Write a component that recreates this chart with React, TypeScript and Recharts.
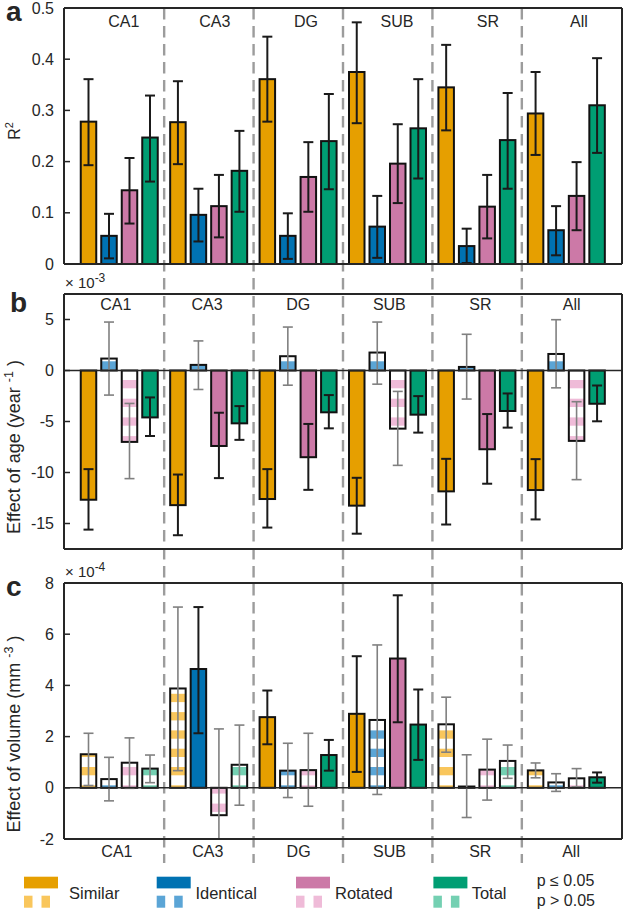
import React from 'react';
import { BarChart, Bar, XAxis, YAxis, ReferenceLine, ErrorBar } from 'recharts';

// ---------- data ----------
const categories = ['CA1', 'CA3', 'DG', 'SUB', 'SR', 'All'];
const seriesNames = ['Similar', 'Identical', 'Rotated', 'Total'];
const solidColors = ['#E69F00', '#0072B2', '#CC79A7', '#009E73'];
const lightColors = ['#F9C65C', '#5BA5D6', '#EFBBD8', '#74D0B2'];

// panel a: R^2
const r2Similar = [0.278, 0.277, 0.361, 0.375, 0.345, 0.294];
const r2SimilarLo = [0.193, 0.195, 0.278, 0.275, 0.261, 0.213];
const r2SimilarHi = [0.361, 0.357, 0.444, 0.472, 0.428, 0.375];
const r2Identical = [0.055, 0.096, 0.055, 0.073, 0.035, 0.066];
const r2IdenticalLo = [0.011, 0.044, 0.01, 0.012, 0.002, 0.017];
const r2IdenticalHi = [0.098, 0.147, 0.099, 0.133, 0.069, 0.113];
const r2Rotated = [0.144, 0.113, 0.17, 0.196, 0.112, 0.133];
const r2RotatedLo = [0.079, 0.052, 0.102, 0.119, 0.05, 0.066];
const r2RotatedHi = [0.207, 0.174, 0.238, 0.273, 0.174, 0.199];
const r2Total = [0.247, 0.182, 0.24, 0.265, 0.242, 0.31];
const r2TotalLo = [0.161, 0.102, 0.146, 0.167, 0.147, 0.217];
const r2TotalHi = [0.329, 0.26, 0.332, 0.361, 0.334, 0.402];
const r2Sig = [
  [true, true, true, true, true, true],
  [true, true, true, true, true, true],
  [true, true, true, true, true, true],
  [true, true, true, true, true, true],
];
const r2Ticks = [0, 0.1, 0.2, 0.3, 0.4, 0.5];

// panel b: effect of age (x 1e-3)
const ageSimilar = [-12.67, -13.2, -12.6, -13.25, -11.85, -11.72];
const ageSimilarLo = [-15.6, -16.15, -15.4, -16.0, -15.1, -14.6];
const ageSimilarHi = [-9.67, -10.2, -9.67, -10.52, -8.66, -8.69];
const ageIdentical = [1.17, 0.55, 1.4, 1.76, 0.35, 1.62];
const ageIdenticalLo = [-2.41, -1.86, -1.44, -1.34, -2.8, -1.7];
const ageIdenticalHi = [4.75, 2.9, 4.26, 4.75, 3.55, 4.98];
const ageRotated = [-7.0, -7.4, -8.5, -5.7, -7.72, -6.9];
const ageRotatedLo = [-10.6, -10.55, -11.7, -9.3, -11.1, -10.7];
const ageRotatedHi = [-3.23, -4.14, -5.24, -2.05, -4.27, -3.06];
const ageTotal = [-4.6, -5.18, -4.1, -4.33, -3.97, -3.26];
const ageTotalLo = [-6.42, -6.8, -5.67, -6.09, -5.6, -4.98];
const ageTotalHi = [-2.64, -3.49, -2.41, -2.51, -2.25, -1.47];
const ageSig = [
  [true, true, true, true, true, true],
  [false, false, false, false, false, false],
  [false, true, true, false, true, false],
  [true, true, true, true, true, true],
];
const ageTicks = [-15, -10, -5, 0, 5];

// panel c: effect of volume (x 1e-4)
const volSimilar = [1.31, 3.88, 2.76, 2.89, 2.48, 0.68];
const volSimilarLo = [0.09, 0.67, 1.7, 0.62, 1.39, 0.39];
const volSimilarHi = [2.13, 7.06, 3.8, 5.14, 3.54, 0.97];
const volIdentical = [0.34, 4.64, 0.67, 2.65, 0.05, 0.21];
const volIdenticalLo = [-0.51, 2.13, -0.38, -0.26, -1.16, -0.14];
const volIdenticalHi = [1.19, 7.06, 1.74, 5.58, 1.29, 0.55];
const volRotated = [0.98, -1.07, 0.69, 5.05, 0.71, 0.37];
const volRotatedLo = [-0.02, -4.4, -0.72, 2.56, -0.48, 0.04];
const volRotatedHi = [1.95, 2.3, 2.13, 7.52, 1.9, 0.75];
const volTotal = [0.75, 0.9, 1.28, 2.47, 1.05, 0.41];
const volTotalLo = [0.2, -0.68, 0.67, 1.09, 0.37, 0.2];
const volTotalHi = [1.28, 2.45, 1.87, 3.84, 1.67, 0.6];
const volSig = [
  [false, false, true, true, false, false],
  [false, true, false, false, false, false],
  [false, false, false, true, false, false],
  [false, false, true, true, false, true],
];
const volTicks = [-2, 0, 2, 4, 6, 8];

// ---------- styles ----------
const FONT = '"Liberation Sans", Arial, Helvetica, sans-serif';
const TXT = '#262626';
const AX = '#262626';
const EDGE = '#111111';
const PLOT_LEFT = 64;
const PLOT_W = 558;

function buildRows(values: number[][], lows: number[][], highs: number[][], sig: boolean[][]) {
  return categories.map((cat, j) => {
    const row: any = { cat };
    for (let k = 0; k < 4; k++) {
      const v = values[k][j];
      const e = [v - lows[k][j], highs[k][j] - v];
      row['v' + k] = v;
      row['sig' + k] = sig[k][j];
      row['es' + k] = sig[k][j] ? e : null;
      row['en' + k] = sig[k][j] ? null : e;
    }
    return row;
  });
}

const rowsA = buildRows(
  [r2Similar, r2Identical, r2Rotated, r2Total],
  [r2SimilarLo, r2IdenticalLo, r2RotatedLo, r2TotalLo],
  [r2SimilarHi, r2IdenticalHi, r2RotatedHi, r2TotalHi],
  r2Sig
);
const rowsB = buildRows(
  [ageSimilar, ageIdentical, ageRotated, ageTotal],
  [ageSimilarLo, ageIdenticalLo, ageRotatedLo, ageTotalLo],
  [ageSimilarHi, ageIdenticalHi, ageRotatedHi, ageTotalHi],
  ageSig
);
const rowsC = buildRows(
  [volSimilar, volIdentical, volRotated, volTotal],
  [volSimilarLo, volIdenticalLo, volRotatedLo, volTotalLo],
  [volSimilarHi, volIdenticalHi, volRotatedHi, volTotalHi],
  volSig
);

const makeShape = (k: number, stripeStart: number, period: number) => (p: any) => {
  const { x, y, width, height, payload } = p;
  if (x == null || y == null || width == null || height == null) return <g />;
  const top = Math.min(y, y + height);
  const h = Math.abs(height);
  if (payload['sig' + k]) {
    return <rect x={x} y={top} width={width} height={h} fill={solidColors[k]} stroke={EDGE} strokeWidth={2} />;
  }
  const S = 8.3;
  const stripes: React.ReactNode[] = [];
  let n = Math.floor((top - stripeStart) / period) - 1;
  for (; stripeStart + n * period < top + h; n++) {
    const a = Math.max(top, stripeStart + n * period);
    const b = Math.min(top + h, stripeStart + n * period + S);
    if (b > a) stripes.push(<rect key={n} x={x} y={a} width={width} height={b - a} fill={lightColors[k]} />);
  }
  return (
    <g>
      <rect x={x} y={top} width={width} height={h} fill="#ffffff" />
      {stripes}
      <rect x={x} y={top} width={width} height={h} fill="none" stroke={EDGE} strokeWidth={2} />
    </g>
  );
};

const CatTick = (props: any) => {
  const { x, index, payload, labelY, dx, step } = props;
  return (
    <text x={x + dx + (index - 2.5) * step} y={labelY} textAnchor="middle" fontSize={16} fontFamily={FONT} fill={TXT}>
      {payload.value}
    </text>
  );
};

const sepShape = (y1: number, y2: number, off: number) => (p: any) => (
  <line x1={p.x1} x2={p.x1} y1={y1} y2={y2} stroke="#9c9c9c" strokeWidth={2.4} strokeDasharray="11.5 6.5" strokeDashoffset={off} />
);

const Decor = (props: any) => <g fontFamily={FONT} fill={TXT}>{props.children}</g>;

type PanelProps = {
  id: string;
  rows: any[];
  top: number;
  height: number;
  mTop: number;
  mBottom: number;
  domain: [number, number];
  ticks: number[];
  stripeStart: number;
  period: number;
  sep: [number, number, number];
  labelY: number;
  labelDx: number;
  labelStep: number;
  zero: boolean;
  decor: React.ReactNode;
};

function Panel(pp: PanelProps) {
  const plotH = pp.height - pp.mTop - pp.mBottom - 1;
  const clipId = 'plotclip-' + pp.id;
  return (
    <div id={'panel-' + pp.id} style={{ position: 'absolute', left: 0, top: pp.top, width: 625, height: pp.height }}>
      <style>{`#panel-${pp.id} .recharts-errorBar, #panel-${pp.id} .recharts-errorBars { clip-path: url(#${clipId}); }`}</style>
      <BarChart
        width={625}
        height={pp.height}
        data={pp.rows}
        margin={{ top: pp.mTop, right: 2, bottom: pp.mBottom, left: 0 }}
        barSize={15.5}
        barGap={5}
      >
        <XAxis
          dataKey="cat"
          height={1}
          padding={{ left: 10.75, right: 10.75 }}
          axisLine={false}
          tickLine={false}
          interval={0}
          tick={<CatTick labelY={pp.labelY} dx={pp.labelDx} step={pp.labelStep} />}
        />
        <YAxis
          width={64}
          domain={pp.domain}
          ticks={pp.ticks}
          allowDataOverflow
          interval={0}
          axisLine={{ stroke: AX, strokeWidth: 2 }}
          tickLine={{ stroke: AX, strokeWidth: 1.5 }}
          tickSize={-6}
          tickMargin={16}
          tick={{ fill: TXT, fontSize: 16, fontFamily: FONT }}
          label={
            <Decor>
              <defs>
                <clipPath id={clipId} clipPathUnits="userSpaceOnUse">
                  <rect x={PLOT_LEFT - 1} y={pp.mTop - 1} width={PLOT_W + 2} height={plotH + 2} />
                </clipPath>
              </defs>
              {pp.decor}
            </Decor>
          }
        />
        <YAxis
          yAxisId="r"
          orientation="right"
          width={1}
          domain={pp.domain}
          ticks={pp.ticks}
          allowDataOverflow
          interval={0}
          axisLine={{ stroke: AX, strokeWidth: 2 }}
          tickLine={{ stroke: AX, strokeWidth: 1.5 }}
          tickSize={-6}
          tick={false}
        />
        {categories.slice(1).map((c) => (
          <ReferenceLine key={c} x={c} position="start" shape={sepShape(pp.sep[0], pp.sep[1], pp.sep[2])} />
        ))}
        {seriesNames.map((name, k) => (
          <Bar key={name} name={name} dataKey={'v' + k} isAnimationActive={false} shape={makeShape(k, pp.stripeStart, pp.period)}>
            <ErrorBar dataKey={'en' + k} width={5} stroke="#808080" strokeWidth={1.6} direction="y" isAnimationActive={false} clipPath={`url(#${clipId})`} />
            <ErrorBar dataKey={'es' + k} width={5} stroke="#1a1a1a" strokeWidth={2} direction="y" isAnimationActive={false} clipPath={`url(#${clipId})`} />
          </Bar>
        ))}
        {pp.zero && <ReferenceLine y={0} stroke={AX} strokeWidth={1.5} />}
        <ReferenceLine y={pp.domain[1]} stroke={AX} strokeWidth={2} />
        <ReferenceLine y={pp.domain[0]} stroke={AX} strokeWidth={2} />
      </BarChart>
    </div>
  );
}

const legendSwatchX = [24, 156.7, 296, 433.4];
const legendTextX = [69, 195.4, 335, 471.7];

function FigureLegend() {
  return (
    <svg width={625} height={47} style={{ position: 'absolute', left: 0, top: 866 }} fontFamily={FONT}>
      {seriesNames.map((n, k) => (
        <g key={n}>
          <rect x={legendSwatchX[k]} y={10.7} width={34} height={11.7} fill={solidColors[k]} />
          {[0, 17.5].map((o) => (
            <rect key={o} x={legendSwatchX[k] + o} y={29.7} width={8.5} height={12} fill={lightColors[k]} />
          ))}
          <text x={legendTextX[k]} y={32.5} fontSize={16.5} fill={TXT}>{n}</text>
        </g>
      ))}
      <text x={536.7} y={19.7} fontSize={16} fill={TXT}>p ≤ 0.05</text>
      <text x={536.7} y={40.3} fontSize={16} fill={TXT}>p &gt; 0.05</text>
    </svg>
  );
}

export default function App() {
  return (
    <div style={{ position: 'absolute', left: 0, top: 0, width: 625, height: 913, background: '#ffffff', overflow: 'hidden' }}>
      <Panel
        id="a"
        rows={rowsA}
        top={0}
        height={280}
        mTop={8}
        mBottom={15}
        domain={[0, 0.5]}
        ticks={r2Ticks}
        stripeStart={0}
        period={18.5}
        sep={[8, 279, 0]}
        labelY={26.7}
        labelDx={8.4}
        labelStep={1.6}
        zero={false}
        decor={
          <g>
            <text x={6} y={21} fontSize={28} fontWeight="bold">a</text>
            <text transform="rotate(-90 20 131)" x={20} y={131} textAnchor="middle" fontSize={16}>
              R<tspan fontSize={11} dy={-7}>2</tspan>
            </text>
          </g>
        }
      />
      <Panel
        id="b"
        rows={rowsB}
        top={268}
        height={284}
        mTop={26}
        mBottom={2}
        domain={[-17.5, 7.5]}
        ticks={ageTicks}
        stripeStart={112}
        period={18.7}
        sep={[11, 284, 1]}
        labelY={42}
        labelDx={0.75}
        labelStep={1.74}
        zero={true}
        decor={
          <g>
            <text x={10} y={43.7} fontSize={28} fontWeight="bold">b</text>
            <text x={65} y={20.3} fontSize={15}>
              × 10<tspan fontSize={12} dy={-6}>-3</tspan>
            </text>
            <text transform="rotate(-90 20 179)" x={20} y={179} textAnchor="middle" fontSize={18}>
              Effect of age (year <tspan fontSize={12.5} dy={-7}>-1</tspan><tspan dy={7}> )</tspan>
            </text>
          </g>
        }
      />
      <Panel
        id="c"
        rows={rowsC}
        top={552}
        height={361}
        mTop={31}
        mBottom={73}
        domain={[-2, 8]}
        ticks={volTicks}
        stripeStart={215}
        period={18.3}
        sep={[0, 311, 4]}
        labelY={305.3}
        labelDx={1}
        labelStep={1.42}
        zero={true}
        decor={
          <g>
            <text x={6} y={44} fontSize={28} fontWeight="bold">c</text>
            <text x={65} y={25} fontSize={15}>
              × 10<tspan fontSize={12} dy={-6}>-4</tspan>
            </text>
            <text transform="rotate(-90 20 182)" x={20} y={182} textAnchor="middle" fontSize={18}>
              Effect of volume (mm <tspan fontSize={12.5} dy={-7}>-3</tspan><tspan dy={7}> )</tspan>
            </text>
          </g>
        }
      />
      <FigureLegend />
    </div>
  );
}
